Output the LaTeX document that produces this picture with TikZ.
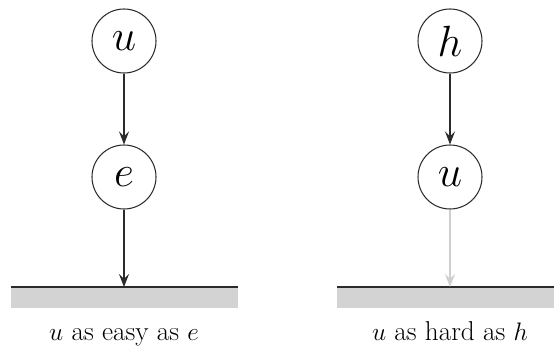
\documentclass[tikz,border=0pt]{standalone}
\usetikzlibrary{arrows.meta,positioning}
\definecolor{ink}{HTML}{2B2B2B}
\definecolor{floor}{HTML}{D3D3D3}
\definecolor{faint}{HTML}{CFCFCF}
\begin{document}
\begin{tikzpicture}[>={Stealth[length=2.6mm,width=2mm,inset=1mm]},
  var/.style={draw=ink, circle, line width=0.6pt,
    minimum size=1.28cm, inner sep=0pt,
    font=\fontsize{23}{26}\selectfont},
  arr/.style={->, draw=ink, line width=0.6pt},
  dimarr/.style={->, draw=faint, line width=0.6pt},
  caption/.style={anchor=base, font=\fontsize{15.5}{18}\selectfont}]
\useasboundingbox (0,0) rectangle (11.08,7.04);

% Left: easy side
\node[var] (u1) at (2.48,6.22) {$u$};
\node[var] (e1) at (2.48,3.5) {$e$};
\fill[floor] (0.22,0.88) rectangle (4.76,1.30);
\draw[ink, line width=0.6pt] (0.22,1.30) -- (4.76,1.30);
\coordinate (g1) at (2.48,1.30);
\node[caption] (c1) at (2.48,0.24) {$u$ as easy as $e$};

% Right: hard side
\node[var] (h2) at (9.0,6.22) {$h$};
\node[var] (u2) at (9.0,3.5) {$u$};
\fill[floor] (6.74,0.88) rectangle (11.28,1.30);
\draw[ink, line width=0.6pt] (6.74,1.30) -- (11.28,1.30);
\coordinate (g2) at (9.0,1.30);
\node[caption] (c2) at (9.0,0.24) {$u$ as hard as $h$};

% Arrows
\draw[arr] (u1) -- (e1);
\draw[arr] (e1) -- (g1);
\draw[arr] (h2) -- (u2);
\draw[dimarr] (u2) -- (g2);

\end{tikzpicture}
\end{document}
